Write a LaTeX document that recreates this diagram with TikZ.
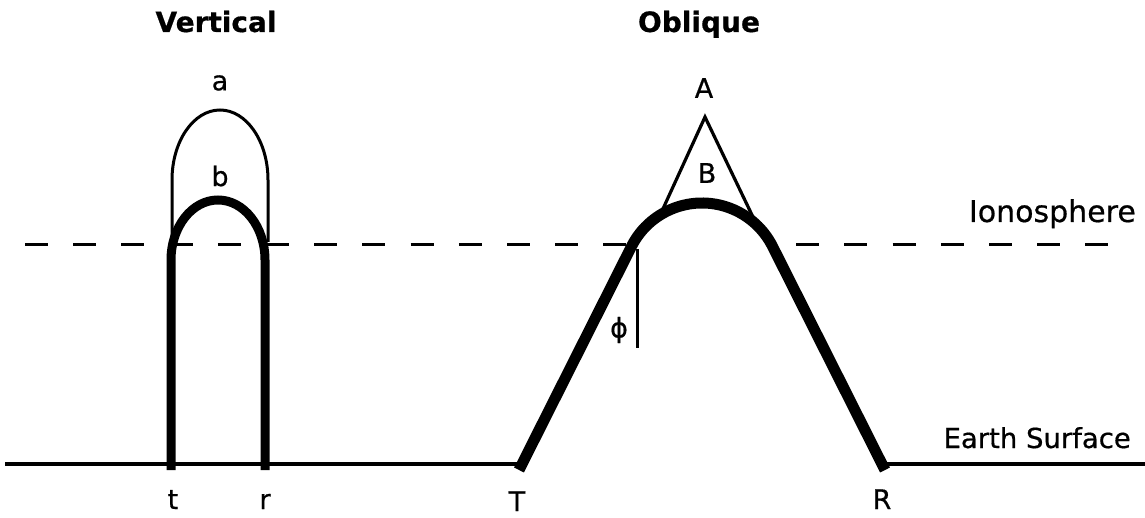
\documentclass[tikz,border=0pt]{standalone}
\usepackage{fontspec}
\setmainfont{DejaVu Sans}[FakeBold=0.6]
\usetikzlibrary{calc}
\begin{document}
\begin{tikzpicture}[x=1pt,y=1pt,
  thinline/.style={line width=3pt},
  vray/.style={line width=9pt},
  oray/.style={line width=11pt},
  lbl/.style={font=\fontsize{27}{27}\selectfont, inner sep=0pt},
  ttl/.style={font=\bfseries\fontsize{28}{28}\selectfont, inner sep=0pt, anchor=base},
  side/.style={inner sep=0pt, anchor=base east}]
\useasboundingbox (0,0) rectangle (1145,517);
% titles
\node[ttl] (tv) at (216,485) {Vertical};
\node[ttl] (to) at (699,485) {Oblique};
% ionosphere
\draw[line width=3.6pt, dash pattern=on 23pt off 25.2pt] (25,272.5) -- (1109,272.5);
\node[side, font=\fontsize{30}{30}\selectfont] (iono) at (1136,295) {Ionosphere};
% earth surface
\draw[line width=3.4pt] (5,53) -- (1145,53);
\node[side, font=\fontsize{27.5}{27.5}\selectfont] (earth) at (1131,69) {Earth Surface};
% vertical
\coordinate (t0) at (171,47);
\coordinate (r0) at (265,47);
\draw[thinline] (172,275) -- (172,337) arc[start angle=180,end angle=0,x radius=48,y radius=70] -- (268,275);
\draw[vray] (t0) -- (171,257) arc[start angle=180,end angle=0,x radius=47,y radius=60] -- (r0);
\node[lbl] (la) at (220,434) {a};
\node[lbl] (lb) at (220,341) {b};
\node[lbl, anchor=base] (lt) at (173,8) {t};
\node[lbl, anchor=base] (lr) at (265,8) {r};
% oblique
\coordinate (C) at (702,235);
\coordinate (T0) at (519,47);
\coordinate (R0) at (885,47);
\coordinate (apex) at (705,400);
\fill[white] (T0) -- ($(C)+(153.2:79)$) arc[start angle=153.2,end angle=26.8,radius=79] -- (R0) -- cycle;
\draw[line width=3.2pt] ($(C)+(122:79)$) -- (apex) -- ($(C)+(46:79)$);
\draw[oray] (T0) -- ($(C)+(153.2:79)$) arc[start angle=153.2,end angle=26.8,radius=79] -- (R0);
\draw[thinline] (637,268) -- (637,169);
\node[lbl] (phi) at (619,187) {ϕ};
\node[lbl] (lA) at (704,429) {A};
\node[lbl] (lB) at (707,344) {B};
\node[lbl, anchor=base] (lT) at (517,6) {T};
\node[lbl, anchor=base] (lR) at (882,8) {R};
\end{tikzpicture}
\end{document}
